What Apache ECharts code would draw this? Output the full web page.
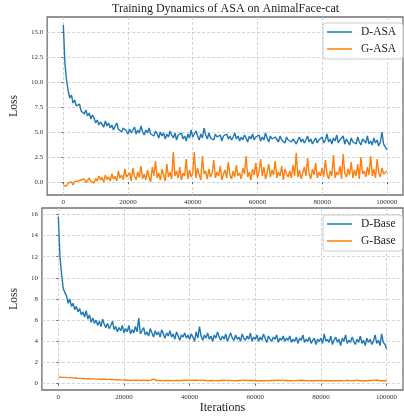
<!DOCTYPE html>
<html>
<head>
<meta charset="utf-8">
<script src="https://cdn.jsdelivr.net/npm/echarts@6/dist/echarts.min.js"></script>
<style>
  html, body { margin: 0; padding: 0; background: #fff; }
  #chart { width: 404px; height: 417px; }
</style>
</head>
<body>
<div id="chart"></div>
<script>
// tick labels
const xTicks = [0, 20000, 40000, 60000, 80000, 100000]
const topYTicks = [0, 2.5, 5, 7.5, 10, 12.5, 15]
const bottomYTicks = [0, 2, 4, 6, 8, 10, 12, 14, 16]

// one value every 500 iterations, 0 .. 100000
const step = 500

const dAsa = [
  15.7, 11.8, 10.2, 9.1, 8.4, 8.7, 7.9, 8.2, 7.6, 7.4,
  7.8, 7.1, 7.3, 6.8, 7.2, 6.6, 6.9, 6.3, 6.7, 6.4,
  5.9, 6.2, 5.7, 6.0, 5.8, 5.5, 6.1, 5.6, 5.9, 5.4,
  5.7, 5.2, 5.6, 5.9, 5.3, 5.5, 5.0, 5.4, 5.6, 5.1,
  4.8, 5.3, 4.9, 5.1, 5.5, 4.8, 5.2, 4.9, 5.6, 5.0,
  4.7, 5.2, 4.9, 5.4, 4.8, 5.0, 4.6, 5.1, 4.8, 4.4,
  5.0, 4.6, 4.9, 4.3, 4.8, 4.5, 5.1, 4.7, 4.4, 4.9,
  4.2, 4.7, 4.5, 4.9, 4.3, 4.6, 4.1, 4.8, 4.4, 5.2,
  4.5, 4.3, 5.1, 4.6, 4.2, 4.8, 4.4, 5.4, 4.7, 4.3,
  4.9, 4.4, 4.6, 4.2, 4.8, 4.5, 4.3, 4.7, 4.1, 4.6,
  4.4, 4.8, 4.3, 4.6, 4.2, 4.5, 4.9, 4.3, 4.6, 4.1,
  4.5, 4.2, 4.7, 4.4, 4.0, 4.6, 4.3, 4.8, 4.2, 4.5,
  4.3, 4.7, 4.1, 4.5, 4.2, 4.9, 4.4, 4.0, 4.6, 4.3,
  4.1, 4.5, 4.3, 4.0, 4.6, 4.2, 4.4, 3.9, 4.5, 4.2,
  4.4, 4.0, 4.3, 4.1, 3.8, 4.2, 4.5, 4.0, 4.3, 3.9,
  4.2, 4.6, 4.0, 4.3, 3.8, 4.1, 4.4, 3.9, 4.2, 4.0,
  4.5, 3.9, 4.2, 4.8, 4.0, 4.3, 3.8, 4.4, 4.1, 4.7,
  3.9, 4.2, 4.0, 4.6, 3.8, 4.3, 4.1, 3.7, 4.4, 4.0,
  4.2, 3.8, 4.5, 4.0, 3.7, 4.3, 4.1, 3.9, 4.6, 3.8,
  4.1, 3.7, 4.4, 3.9, 4.2, 3.6, 4.0, 5.0, 3.8, 3.6,
  3.2
]

const gAsa = [
  -0.35, -0.2, -0.4, -0.1, -0.25, 0.0, -0.3, 0.05, -0.15, 0.1,
  -0.1, 0.2, 0.0, 0.3, -0.05, 0.15, 0.4, 0.05, 0.25, -0.1,
  0.35, 0.1, 0.6, 0.2, 0.45, 0.0, 0.7, 0.25, 0.5, 0.1,
  0.8, 0.3, 0.55, 0.1, 1.1, 0.4, 0.7, 0.2, 1.3, 0.5,
  0.3, 0.9, 0.1, 1.4, 0.6, 0.2, 1.0, 0.45, 1.6, 0.3,
  0.8, 0.2, 1.2, 0.5, 0.0, 1.5, 0.6, 2.1, 0.4, 0.9,
  0.2, 1.3, 0.7, 0.1, 1.8, 0.5, 1.0, 0.3, 3.0, 0.6,
  1.1, 0.4, 1.5, 0.2, 0.9, 0.6, 2.3, 0.3, 1.2, 0.5,
  0.9, 3.0, 0.4, 1.4, 0.7, 0.2, 2.6, 0.8, 1.1, 0.3,
  1.3, 0.5, 0.9, 2.2, 0.4, 1.0, 0.6, 1.6, 0.2, 0.8,
  1.2, 0.4, 2.0, 0.7, 0.3, 1.1, 0.5, 1.7, 0.6, 0.9,
  0.3, 1.4, 0.8, 2.6, 0.5, 1.0, 0.2, 1.3, 0.7, 1.9,
  0.4, 1.1, 2.3, 0.6, 1.5, 0.3, 0.9, 1.8, 0.5, 1.2,
  0.7, 2.1, 0.4, 1.0, 0.6, 1.6, 0.2, 1.3, 0.8, 0.5,
  1.1, 0.4, 1.7, 0.6, 2.9, 0.5, 1.2, 0.3, 0.9, 1.5,
  0.6, 2.4, 0.8, 0.3, 1.3, 0.7, 1.9, 0.4, 1.0, 0.6,
  1.4, 0.5, 2.2, 0.8, 0.3, 1.1, 0.6, 2.7, 0.4, 1.0,
  0.7, 1.6, 0.3, 2.8, 0.9, 0.5, 1.3, 0.7, 2.0, 0.4,
  1.2, 0.6, 1.8, 0.3, 2.5, 0.8, 1.1, 0.5, 1.5, 0.7,
  2.6, 0.6, 1.3, 0.4, 2.3, 0.9, 0.5, 1.4, 0.8, 1.0,
  1.1
]

const dBase = [
  15.8, 12.0, 10.3, 9.0, 8.6, 8.3, 7.6, 8.0, 7.3, 7.6,
  7.0, 7.3, 6.8, 7.1, 6.5, 6.8, 6.3, 6.9, 6.1, 6.5,
  5.8, 6.2, 5.7, 6.0, 5.5, 5.9, 5.4, 6.1, 5.6, 5.3,
  5.7, 5.2, 5.5, 5.9, 5.1, 5.4, 4.9, 5.3, 5.0, 5.5,
  4.8, 5.2, 4.9, 5.5, 4.7, 5.1, 4.8, 5.4, 4.9, 6.2,
  4.7, 5.0, 5.3, 4.6, 4.9, 4.5, 5.2, 4.8, 4.4, 5.0,
  4.6, 4.9, 4.4, 5.1, 4.7, 4.3, 4.8, 4.5, 5.0, 4.4,
  4.7, 4.2, 4.9, 4.5, 4.1, 4.6, 4.4, 4.8, 4.3, 4.6,
  4.2, 4.7, 4.4, 4.0, 4.9, 4.3, 5.4, 4.5, 4.1, 4.6,
  4.3, 4.8, 4.2, 4.5, 4.0, 4.6, 4.3, 4.9, 4.4, 4.1,
  4.5, 4.2, 4.7, 4.0, 4.4, 4.8, 4.3, 4.1, 4.6, 4.2,
  4.4, 4.0, 4.7, 4.3, 4.1, 4.5, 4.2, 4.8, 4.0, 4.4,
  4.2, 4.6, 4.0, 4.4, 4.1, 4.7, 4.3, 3.9, 4.5, 4.2,
  4.0, 4.4, 4.2, 4.6, 3.9, 4.3, 4.1, 4.5, 4.0, 4.3,
  4.1, 4.5, 3.9, 4.2, 4.0, 4.4, 3.8, 4.3, 4.1, 4.6,
  3.9, 4.2, 4.0, 4.4, 3.8, 4.1, 4.3, 3.7, 4.2, 4.0,
  4.3, 3.8, 4.7, 4.0, 4.2, 3.9, 4.5, 3.7, 4.1, 4.4,
  3.9, 4.2, 3.6, 4.3, 4.0, 4.6, 3.8, 4.1, 3.9, 4.4,
  4.0, 3.7, 4.2, 3.9, 4.5, 3.8, 4.1, 3.6, 4.3, 3.9,
  4.2, 3.7, 4.0, 4.6, 3.8, 4.1, 3.6, 4.7, 3.9, 3.7,
  3.3
]

const gBase = [
  0.62, 0.58, 0.60, 0.55, 0.59, 0.54, 0.57, 0.52, 0.55, 0.50,
  0.53, 0.49, 0.51, 0.47, 0.50, 0.46, 0.48, 0.45, 0.47, 0.43,
  0.46, 0.42, 0.45, 0.41, 0.43, 0.40, 0.42, 0.39, 0.41, 0.38,
  0.40, 0.37, 0.39, 0.36, 0.38, 0.35, 0.37, 0.34, 0.36, 0.35,
  0.33, 0.36, 0.32, 0.35, 0.31, 0.34, 0.33, 0.36, 0.32, 0.34,
  0.31, 0.35, 0.32, 0.34, 0.30, 0.33, 0.31, 0.35, 0.42, 0.32,
  0.30, 0.34, 0.31, 0.33, 0.29, 0.32, 0.30, 0.34, 0.31, 0.33,
  0.29, 0.33, 0.30, 0.32, 0.28, 0.31, 0.33, 0.29, 0.32, 0.30,
  0.31, 0.28, 0.32, 0.30, 0.33, 0.29, 0.31, 0.28, 0.32, 0.30,
  0.29, 0.32, 0.28, 0.31, 0.30, 0.33, 0.29, 0.31, 0.28, 0.30,
  0.32, 0.29, 0.31, 0.28, 0.30, 0.33, 0.29, 0.31, 0.28, 0.32,
  0.30, 0.28, 0.31, 0.29, 0.32, 0.28, 0.30, 0.27, 0.31, 0.29,
  0.28, 0.31, 0.29, 0.32, 0.28, 0.30, 0.27, 0.31, 0.29, 0.30,
  0.31, 0.28, 0.30, 0.27, 0.32, 0.29, 0.31, 0.28, 0.30, 0.29,
  0.27, 0.30, 0.28, 0.31, 0.29, 0.27, 0.30, 0.28, 0.32, 0.29,
  0.30, 0.27, 0.29, 0.31, 0.28, 0.30, 0.27, 0.29, 0.31, 0.28,
  0.29, 0.32, 0.28, 0.30, 0.27, 0.31, 0.29, 0.33, 0.28, 0.30,
  0.28, 0.30, 0.27, 0.31, 0.29, 0.28, 0.30, 0.27, 0.29, 0.31,
  0.28, 0.30, 0.33, 0.29, 0.27, 0.31, 0.28, 0.30, 0.27, 0.29,
  0.30, 0.28, 0.31, 0.27, 0.34, 0.29, 0.28, 0.30, 0.27, 0.29,
  0.28
]

const serif = "'Liberation Serif', 'Times New Roman', 'DejaVu Serif', serif"
const blue = '#1f77b4'
const orange = '#ff7f0e'

function pairs(values) {
  return values.map((v, i) => [i * step, v])
}

function xAxis(gridIndex, name) {
  return {
    type: 'value',
    gridIndex: gridIndex,
    min: -5000,
    max: 105000,
    name: name,
    nameLocation: 'middle',
    nameGap: 12,
    nameTextStyle: { fontFamily: serif, fontSize: 12, color: '#222' },
    axisLine: { show: false },
    axisTick: { show: true, length: 2, customValues: xTicks, lineStyle: { color: '#666' } },
    axisLabel: { customValues: xTicks, fontFamily: serif, fontSize: 7, color: '#333', margin: 4, formatter: v => String(v) },
    splitLine: { show: true, lineStyle: { type: [3, 2], color: '#c8c8c8', width: 0.8 } }
  }
}

function yAxis(gridIndex, min, max, ticks, gap, fmt) {
  return {
    type: 'value',
    gridIndex: gridIndex,
    min: min,
    max: max,
    name: 'Loss',
    nameLocation: 'middle',
    nameGap: gap,
    nameTextStyle: { fontFamily: serif, fontSize: 11.5, color: '#222' },
    axisLine: { show: false },
    axisTick: { show: true, length: 2, customValues: ticks, lineStyle: { color: '#666' } },
    axisLabel: { customValues: ticks, fontFamily: serif, fontSize: 7, color: '#333', margin: 4, formatter: fmt },
    splitLine: { show: true, lineStyle: { type: [3, 2], color: '#c8c8c8', width: 0.8 } }
  }
}

function legend(top, names) {
  return {
    orient: 'vertical',
    left: 323,
    top: top,
    data: names,
    icon: 'rect',
    padding: [3, 7, 4, 4],
    itemGap: 5,
    itemWidth: 25,
    itemHeight: 1.5,
    backgroundColor: 'rgba(255,255,255,0.85)',
    borderColor: '#cccccc',
    borderWidth: 1,
    borderRadius: 3,
    textStyle: { fontFamily: serif, fontSize: 11.5, color: '#222', lineHeight: 12, padding: [0, 0, 0, 4] }
  }
}

function line(name, values, axisIndex, color) {
  return {
    name: name,
    type: 'line',
    xAxisIndex: axisIndex,
    yAxisIndex: axisIndex,
    data: pairs(values),
    symbol: 'none',
    lineStyle: { color: color, width: 1.4 },
    itemStyle: { color: color },
    animation: false
  }
}

const chart = echarts.init(document.getElementById('chart'))
chart.setOption({
  backgroundColor: '#fff',
  animation: false,
  title: {
    text: 'Training Dynamics of ASA on AnimalFace-cat',
    left: 112,
    top: 3,
    padding: 0,
    textStyle: { fontFamily: serif, fontSize: 12, fontWeight: 'normal', color: '#222' }
  },
  legend: [
    legend(23, ['D-ASA', 'G-ASA']),
    legend(215, ['D-Base', 'G-Base'])
  ],
  grid: [
    { left: 38, top: 17, width: 365, height: 178, show: true, borderColor: '#707070', borderWidth: 1.3, backgroundColor: 'transparent' },
    { left: 32, top: 208, width: 371, height: 182, show: true, borderColor: '#707070', borderWidth: 1.3, backgroundColor: 'transparent' }
  ],
  xAxis: [xAxis(0, ''), xAxis(1, 'Iterations')],
  yAxis: [
    yAxis(0, -1.3, 16.5, topYTicks, 18.5, v => v.toFixed(1)),
    yAxis(1, -0.6, 16.6, bottomYTicks, 14.5, v => String(v))
  ],
  series: [
    line('D-ASA', dAsa, 0, blue),
    line('G-ASA', gAsa, 0, orange),
    line('D-Base', dBase, 1, blue),
    line('G-Base', gBase, 1, orange)
  ]
})
</script>
</body>
</html>
